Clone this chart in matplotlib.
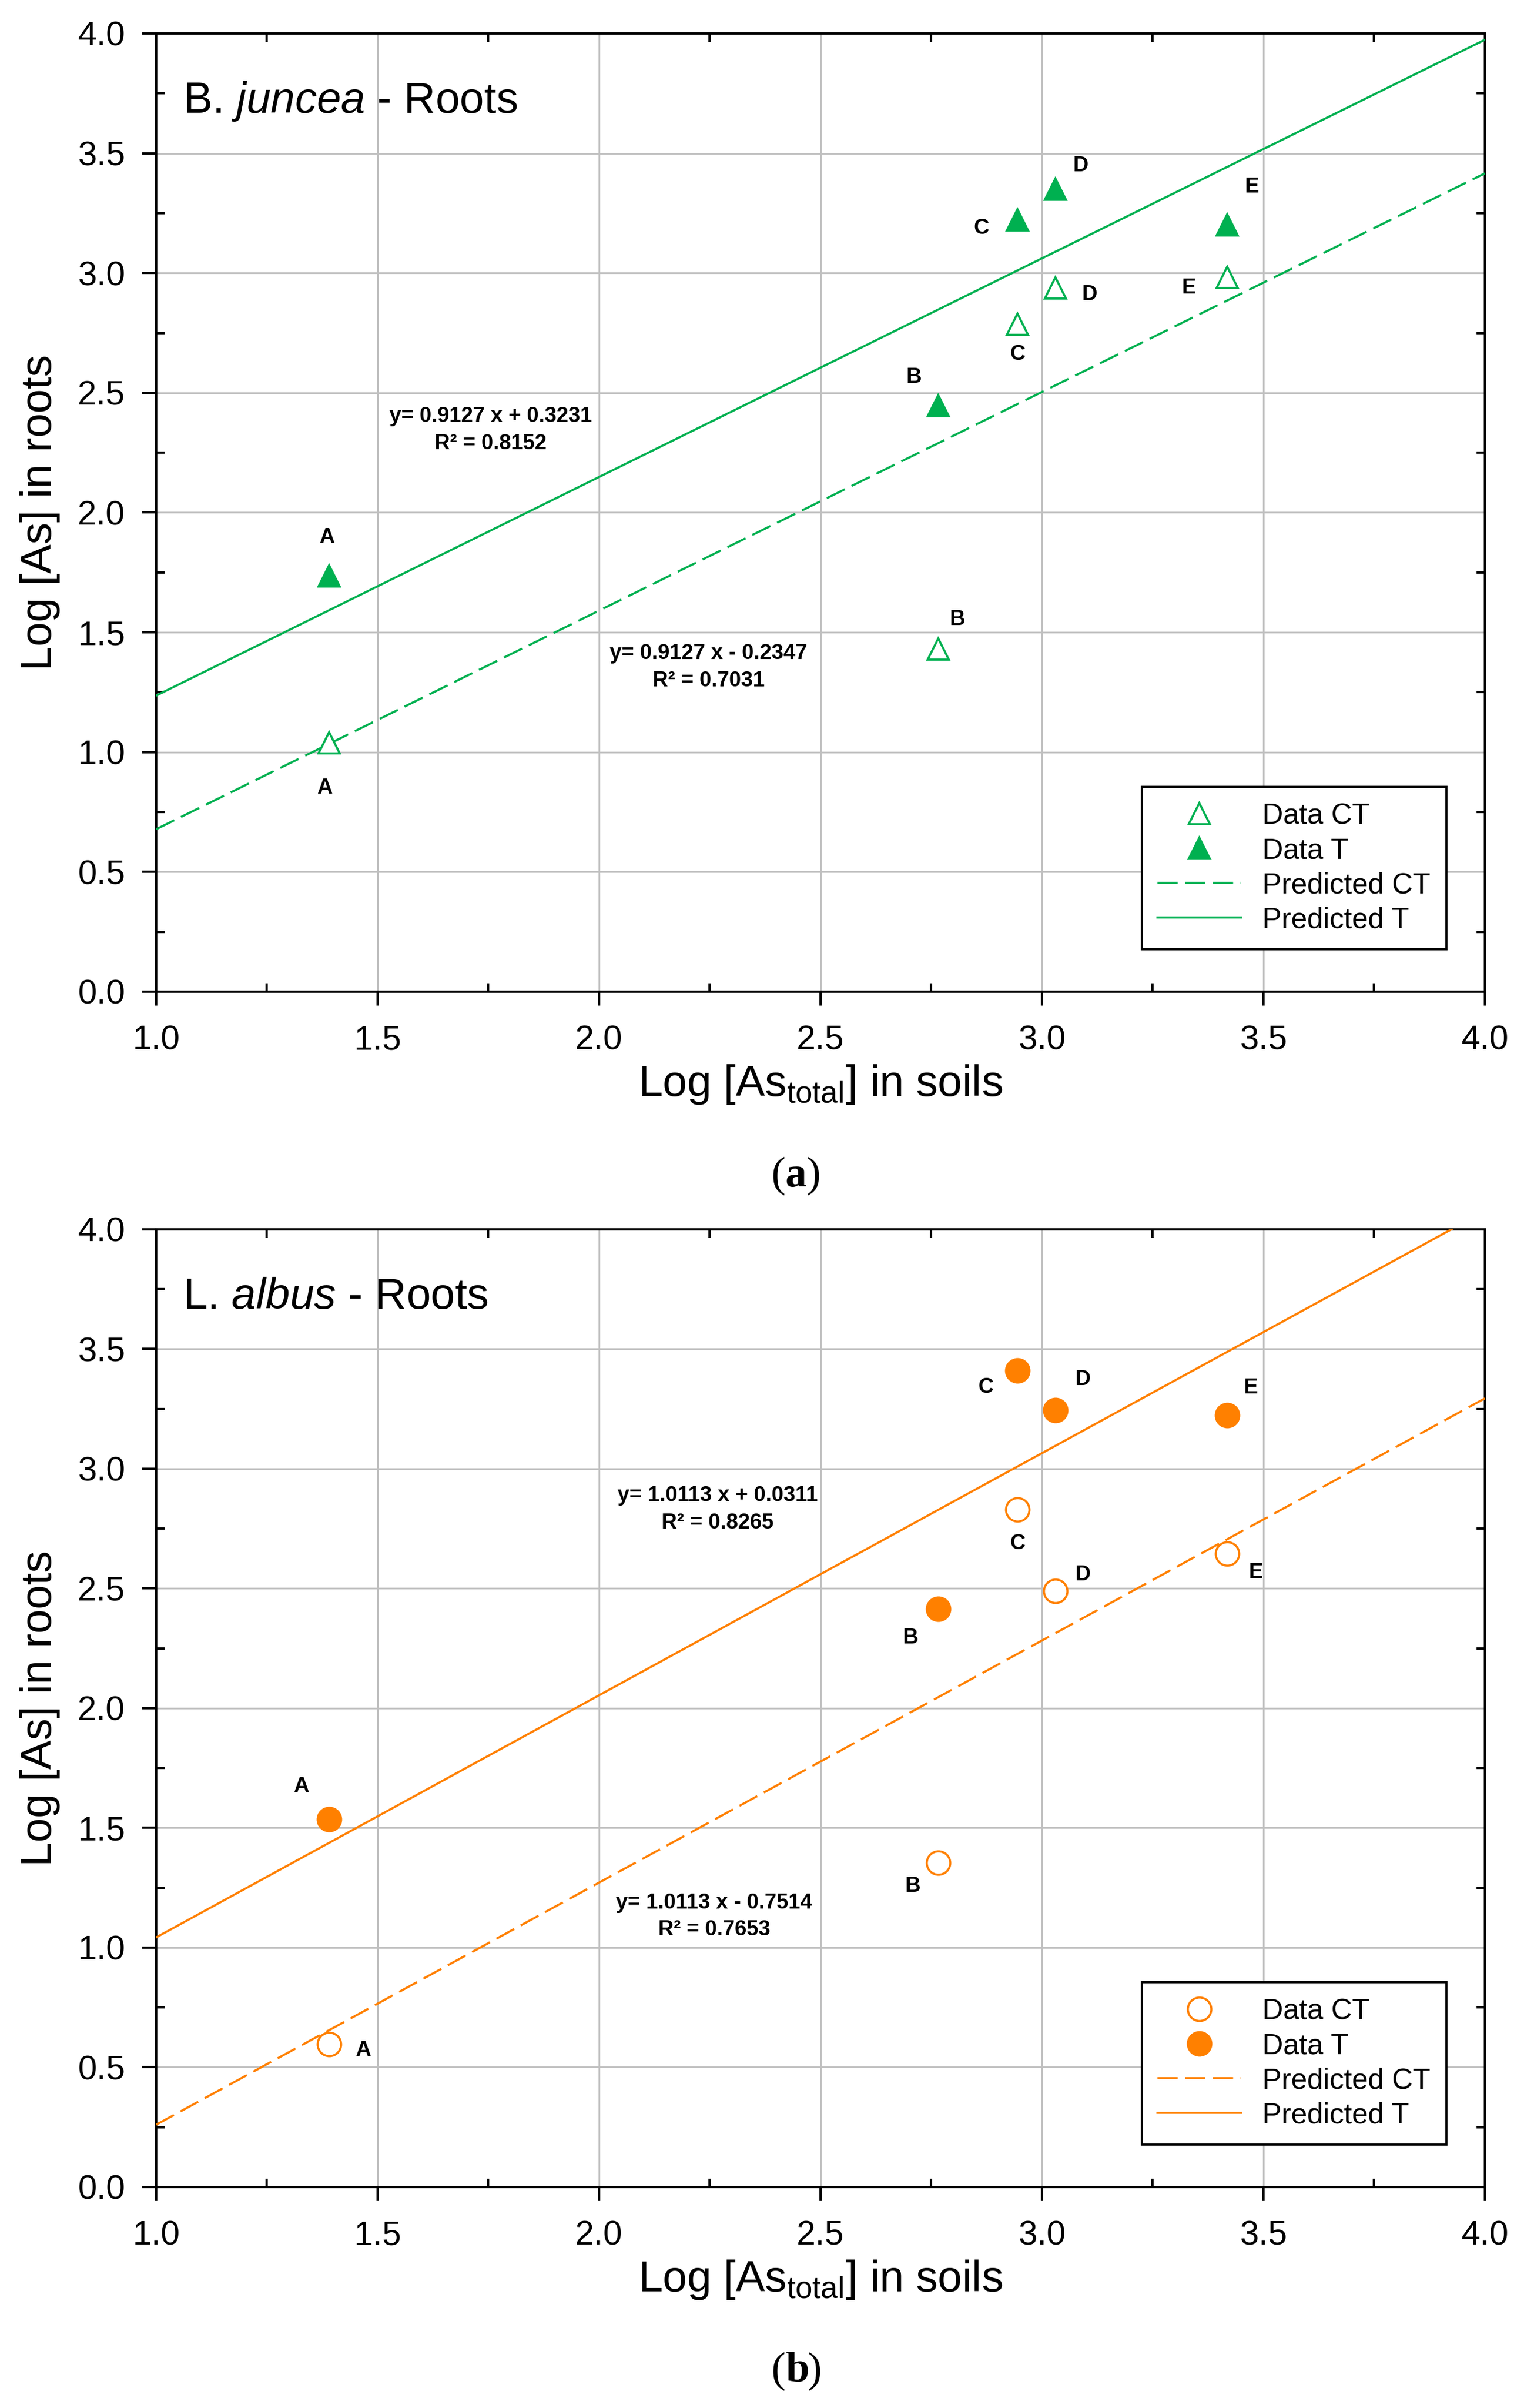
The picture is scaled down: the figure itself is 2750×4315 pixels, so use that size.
import numpy as np
import matplotlib
matplotlib.use('Agg')
import matplotlib.pyplot as plt
from matplotlib.ticker import MultipleLocator

plt.rcParams['font.family'] = ['Liberation Sans', 'DejaVu Sans']
plt.rcParams['mathtext.fontset'] = 'custom'
plt.rcParams['mathtext.rm'] = 'Liberation Sans'
plt.rcParams['mathtext.it'] = 'Liberation Sans:italic'
plt.rcParams['mathtext.bf'] = 'Liberation Sans:bold'

# soil levels A-E (log total As in soils)
labels = ['A', 'B', 'C', 'D', 'E']
x_soil = [1.39, 2.766, 2.945, 3.03, 3.418]

# B. juncea roots
bj_T = [1.736, 2.445, 3.222, 3.349, 3.200]
bj_CT = [1.038, 1.430, 2.786, 2.937, 2.983]
bj_fit_T = (0.9127, 0.3231)
bj_fit_CT = (0.9127, -0.2347)
bj_eq_T = ['y= 0.9127 x + 0.3231', 'R² = 0.8152']
bj_eq_CT = ['y= 0.9127 x - 0.2347', 'R² = 0.7031']

# L. albus roots
la_T = [1.535, 2.414, 3.410, 3.244, 3.223]
la_CT = [0.597, 1.355, 2.829, 2.489, 2.646]
la_fit_T = (1.0113, 0.0311)
la_fit_CT = (1.0113, -0.7514)
la_eq_T = ['y= 1.0113 x + 0.0311', 'R² = 0.8265']
la_eq_CT = ['y= 1.0113 x - 0.7514', 'R² = 0.7653']

green = '#00b050'
orange = '#ff8000'

# label offsets (points) for point letters
bj_off_T = [(-1, 18), (-11.5, 13.5), (-17, -4), (12, 11), (11.5, 18)]
bj_off_CT = [(-2, -21), (9, 14), (0, -14), (16, -3), (-18, -5)]
la_off_T = [(-13, 15.5), (-13, -13.5), (-15, -8), (13, 14.5), (11, 13)]
la_off_CT = [(16, -3), (-12, -11), (0, -16), (13, 7.5), (13.5, -9)]

fig = plt.figure(figsize=(10, 4315 / 275))


def panel(rect, title, colour, marker, msize, yT, yCT, fitT, fitCT, eqT, eqCT,
          eqT_pos, eqCT_pos, offT, offCT):
    ax = fig.add_axes(rect)
    xl = np.array([1.0, 4.0])
    ax.plot(xl, fitCT[0] * xl + fitCT[1], color=colour, lw=1.0,
            dashes=(9.5, 3.5), label='Predicted CT', zorder=3)
    ax.plot(xl, fitT[0] * xl + fitT[1], color=colour, lw=1.0,
            label='Predicted T', zorder=3)
    ax.plot(x_soil, yCT, ls='none', marker=marker, ms=msize, mfc='white',
            mec=colour, mew=1.0, label='Data CT', zorder=4)
    ax.plot(x_soil, yT, ls='none', marker=marker, ms=msize, mfc=colour,
            mec=colour, mew=1.0, label='Data T', zorder=4)

    for i in range(len(labels)):
        ax.annotate(labels[i], (x_soil[i], yT[i]), xytext=offT[i],
                    textcoords='offset points', ha='center', va='center',
                    fontsize=10, fontweight='bold')
        ax.annotate(labels[i], (x_soil[i], yCT[i]), xytext=offCT[i],
                    textcoords='offset points', ha='center', va='center',
                    fontsize=10, fontweight='bold')

    ax.text(eqT_pos[0], eqT_pos[1], eqT[0] + '\n' + eqT[1], ha='center',
            va='center', fontsize=10, fontweight='bold', linespacing=1.45)
    ax.text(eqCT_pos[0], eqCT_pos[1], eqCT[0] + '\n' + eqCT[1], ha='center',
            va='center', fontsize=10, fontweight='bold', linespacing=1.45)

    ax.set_xlim(1.0, 4.0)
    ax.set_ylim(0.0, 4.0)
    ax.xaxis.set_major_locator(MultipleLocator(0.5))
    ax.xaxis.set_minor_locator(MultipleLocator(0.25))
    ax.yaxis.set_major_locator(MultipleLocator(0.5))
    ax.yaxis.set_minor_locator(MultipleLocator(0.25))
    ax.xaxis.set_major_formatter(lambda v, p: '%.1f' % v)
    ax.yaxis.set_major_formatter(lambda v, p: '%.1f' % v)
    ax.grid(True, which='major', color='#c0c0c0', lw=0.8)
    ax.set_axisbelow(True)
    ax.tick_params(which='major', direction='out', length=6.5, width=1.1,
                   labelsize=16, top=False, right=False)
    ax.tick_params(axis='x', which='major', pad=9)
    ax.tick_params(axis='y', which='major', pad=8)
    ax.tick_params(which='minor', direction='in', length=4, width=1.1,
                   top=True, right=True, bottom=True, left=True)
    for s in ax.spines.values():
        s.set_linewidth(1.1)

    ax.text(0.02, 0.917, title, transform=ax.transAxes, fontsize=20.5,
            va='baseline', ha='left')
    ax.text(0.5, -0.097, r'Log [As$_{\mathrm{total}}$] in soils',
            transform=ax.transAxes, ha='center', va='center', fontsize=20.5)
    ax.text(-0.0873, 0.5, 'Log [As] in roots', transform=ax.transAxes,
            ha='center', va='center', rotation=90, fontsize=20.5)

    h, l = ax.get_legend_handles_labels()
    order = [2, 3, 0, 1]
    leg = ax.legend([h[k] for k in order], [l[k] for k in order],
                    loc='lower right', bbox_to_anchor=(0.971, 0.044),
                    fontsize=13.5, frameon=True, fancybox=False,
                    edgecolor='black', framealpha=1, numpoints=1,
                    handlelength=2.9, handletextpad=0.75, labelspacing=0.25,
                    borderpad=0.55, borderaxespad=0)
    leg.get_frame().set_linewidth(1.0)
    return ax


panel([0.1018, 0.5882, 0.8662, 0.3979], r'B. $\it{juncea}$ - Roots', green,
      '^', 10, bj_T, bj_CT, bj_fit_T, bj_fit_CT, bj_eq_T, bj_eq_CT,
      (1.755, 2.345), (2.247, 1.355), bj_off_T, bj_off_CT)
panel([0.1018, 0.0918, 0.8662, 0.3977], r'L. $\it{albus}$ - Roots', orange,
      'o', 11, la_T, la_CT, la_fit_T, la_fit_CT, la_eq_T, la_eq_CT,
      (2.268, 2.83), (2.26, 1.13), la_off_T, la_off_CT)

for tag, yy in [('a', 0.5117), ('b', 0.0153)]:
    fig.text(0.512, yy, '(', ha='right', va='center', fontsize=20,
             family='Liberation Serif')
    fig.text(0.512, yy, tag, ha='left', va='center', fontsize=20,
             family='Liberation Serif', fontweight='bold')
    w = 0.0135 if tag == 'a' else 0.0145
    fig.text(0.512 + w, yy, ')', ha='left', va='center', fontsize=20,
             family='Liberation Serif')

fig.savefig('out.png', dpi=275)
